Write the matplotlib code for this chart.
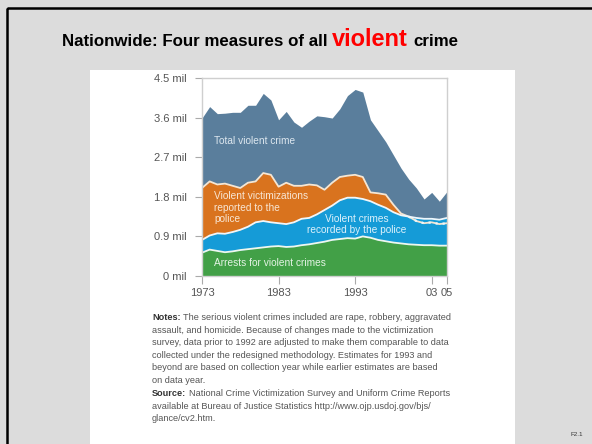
import matplotlib
matplotlib.use("Agg")
import matplotlib.pyplot as plt
import numpy as np
from matplotlib.patches import Rectangle

# ---------------- data (millions) ----------------
years = list(range(1973, 2006))
total = [3.59, 3.85, 3.69, 3.70, 3.72, 3.72, 3.88, 3.88, 4.15, 4.00,
         3.55, 3.74, 3.50, 3.38, 3.52, 3.64, 3.62, 3.59, 3.80, 4.10,
         4.24, 4.18, 3.55, 3.30, 3.05, 2.75, 2.45, 2.20, 2.00, 1.75,
         1.90, 1.70, 1.92]
reported = [2.00, 2.15, 2.08, 2.10, 2.05, 2.00, 2.12, 2.15, 2.34, 2.30,
            2.03, 2.12, 2.05, 2.05, 2.08, 2.06, 1.96, 2.12, 2.25, 2.28,
            2.30, 2.25, 1.90, 1.88, 1.85, 1.62, 1.42, 1.35, 1.25, 1.20,
            1.22, 1.18, 1.20]
recorded = [0.82, 0.92, 0.97, 0.96, 1.00, 1.05, 1.12, 1.22, 1.25, 1.22,
            1.20, 1.18, 1.22, 1.30, 1.32, 1.40, 1.50, 1.60, 1.72, 1.78,
            1.78, 1.75, 1.70, 1.62, 1.55, 1.45, 1.38, 1.35, 1.32, 1.30,
            1.30, 1.28, 1.32]
arrests = [0.53, 0.60, 0.57, 0.54, 0.56, 0.59, 0.61, 0.63, 0.65, 0.67,
           0.68, 0.66, 0.67, 0.70, 0.72, 0.75, 0.78, 0.82, 0.84, 0.86,
           0.85, 0.90, 0.87, 0.82, 0.79, 0.76, 0.74, 0.72, 0.71, 0.70,
           0.70, 0.69, 0.69]
ytick_vals = [0, 0.9, 1.8, 2.7, 3.6, 4.5]
ytick_labels = ["0 mil", "0.9 mil", "1.8 mil", "2.7 mil", "3.6 mil", "4.5 mil"]
xtick_vals = [1973, 1983, 1993, 2003, 2005]
xtick_labels = ["1973", "1983", "1993", "03", "05"]

title_parts = ["Nationwide: Four measures of all", "violent", "crime"]
notes_lines = [
    "The serious violent crimes included are rape, robbery, aggravated",
    "assault, and homicide. Because of changes made to the victimization",
    "survey, data prior to 1992 are adjusted to make them comparable to data",
    "collected under the redesigned methodology. Estimates for 1993 and",
    "beyond are based on collection year while earlier estimates are based",
    "on data year.",
]
source_lines = [
    "National Crime Victimization Survey and Uniform Crime Reports",
    "available at Bureau of Justice Statistics http://www.ojp.usdoj.gov/bjs/",
    "glance/cv2.htm.",
]

C_TOTAL = "#5a7e9c"
C_REP = "#d9731e"
C_REC = "#159bd7"
C_ARR = "#42a047"

plt.rcParams["font.family"] = ["Liberation Sans", "DejaVu Sans"]

W, H = 592, 444
fig = plt.figure(figsize=(W / 100, H / 100), dpi=100)
fig.patch.set_facecolor("#dcdcdc")

bg = fig.add_axes([0, 0, 1, 1], zorder=0)
bg.set_xlim(0, W)
bg.set_ylim(H, 0)
bg.axis("off")
bg.add_patch(Rectangle((7, 8), 620, 460, fill=False, ec="black", lw=1.8))
bg.add_patch(Rectangle((90, 70), 425, 400, fc="white", ec="none"))

renderer = fig.canvas.get_renderer()


def width_of(t):
    return t.get_window_extent(renderer=renderer).width


def space_w(**kw):
    a = bg.text(0, 0, "n n", **kw)
    b = bg.text(0, 0, "nn", **kw)
    w = width_of(a) - width_of(b)
    a.remove()
    b.remove()
    return w


def runs(x, y, parts, gap_kw=None):
    for s, kw in parts:
        t = bg.text(x, y, s, va="baseline", ha="left", **kw)
        gk = gap_kw if gap_kw is not None else {k: v for k, v in kw.items()
                                                if k in ("fontsize", "fontweight")}
        x += width_of(t) + space_w(**gk)
    return x


runs(62, 46, [
    (title_parts[0], dict(fontsize=12.2, fontweight="bold", color="black")),
    (title_parts[1], dict(fontsize=17, fontweight="bold", color="#ff0000")),
    (title_parts[2], dict(fontsize=12.2, fontweight="bold", color="black")),
], gap_kw=dict(fontsize=12.2, fontweight="bold"))

# ---------------- chart ----------------
ax = fig.add_axes([202 / W, 1 - 276 / H, 245 / W, 198 / H], zorder=2)
ax.set_facecolor("white")
yr = np.array(years)
ax.fill_between(yr, 0, total, color=C_TOTAL, lw=0)
ax.fill_between(yr, 0, reported, color=C_REP, lw=0)
ax.plot(yr, reported, color="#f6e6d2", lw=1.3)
ax.fill_between(yr, 0, recorded, color=C_REC, lw=0)
ax.plot(yr, recorded, color="#eef7fc", lw=1.3)
ax.fill_between(yr, 0, arrests, color=C_ARR, lw=0)
ax.plot(yr, arrests, color="#eef7ee", lw=1.3)
rep = np.array(reported)
mask = yr >= 2000
ax.plot(yr[mask], rep[mask], color="#eef7fc", lw=1.6, ls=(0, (1, 2.2)))

ax.set_xlim(1973, 2005)
ax.set_ylim(0, 4.5)
ax.set_yticks(ytick_vals, ytick_labels)
ax.set_xticks(xtick_vals, xtick_labels)
ax.tick_params(axis="y", length=5, width=0.8, color="#aaaaaa", labelsize=8,
               labelcolor="#555555", pad=6)
ax.tick_params(axis="x", length=6, width=0.8, color="#aaaaaa", labelsize=8,
               labelcolor="#555555", pad=3)
for sp in ax.spines.values():
    sp.set_color("#cfcfcf")
    sp.set_linewidth(1.0)

lab = dict(fontsize=7.3, ha="left", va="center", linespacing=1.2)
ax.text(1974.6, 3.07, "Total violent crime", color="#dde7ef", **lab)
ax.text(1974.6, 1.55, "Violent victimizations\nreported to the\npolice", color="#f8e6d4", **lab)
ax.text(1993.2, 1.17, "Violent crimes\nrecorded by the police", color="#dcf1fb",
        fontsize=7.3, ha="center", va="center", linespacing=1.2)
ax.text(1974.6, 0.30, "Arrests for violent crimes", color="#e4f3e4", **lab)

# ---------------- notes ----------------
nfs = 6.6
y0 = 320
for i, line in enumerate(notes_lines):
    if i == 0:
        runs(152, y0, [("Notes:", dict(fontsize=nfs, fontweight="bold", color="#333333")),
                       (line, dict(fontsize=nfs, color="#555555"))],
             gap_kw=dict(fontsize=nfs))
    else:
        bg.text(152, y0 + i * 12.5, line, fontsize=nfs, color="#555555", va="baseline")
y1 = 396
for i, line in enumerate(source_lines):
    if i == 0:
        runs(152, y1, [("Source:", dict(fontsize=nfs, fontweight="bold", color="#333333")),
                       (line, dict(fontsize=nfs, color="#555555"))],
             gap_kw=dict(fontsize=nfs))
    else:
        bg.text(152, y1 + i * 12.5, line, fontsize=nfs, color="#555555", va="baseline")

bg.text(577, 434, "F2.1", fontsize=4.5, color="#333333", ha="center", va="center")

fig.savefig("out.png", dpi=100, facecolor=fig.get_facecolor())
